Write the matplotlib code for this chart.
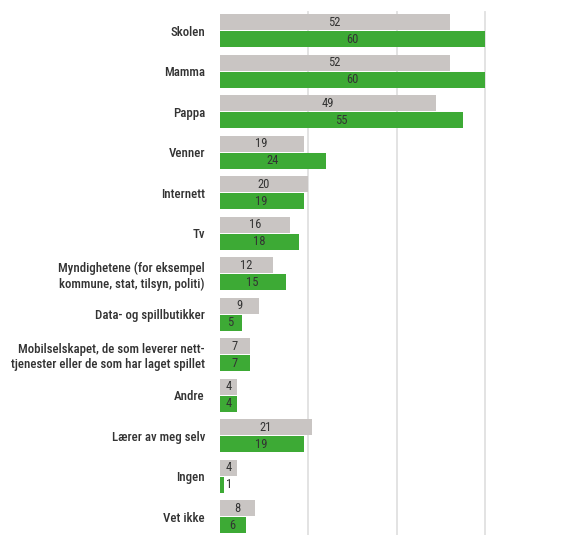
import matplotlib
matplotlib.use("Agg")
import matplotlib.pyplot as plt

categories = [
    "Skolen",
    "Mamma",
    "Pappa",
    "Venner",
    "Internett",
    "Tv",
    "Myndighetene (for eksempel\nkommune, stat, tilsyn, politi)",
    "Data- og spillbutikker",
    "Mobilselskapet, de som leverer nett-\ntjenester eller de som har laget spillet",
    "Andre",
    "Lærer av meg selv",
    "Ingen",
    "Vet ikke",
]
gray_values = [52, 52, 49, 19, 20, 16, 12, 9, 7, 4, 21, 4, 8]
green_values = [60, 60, 55, 24, 19, 18, 15, 5, 7, 4, 19, 1, 6]
grid_ticks = [20, 40, 60]

FAMILY = ["Roboto Condensed", "DejaVu Sans"]
GRAY = "#c9c5c3"
GREEN = "#3daa35"
TEXT = "#333333"

fig = plt.figure(figsize=(5.66, 5.35), dpi=100)
ax = fig.add_axes([219.5 / 566, 0.0, (485 - 219.5) / 566, 1 - 12 / 535])

h = 0.40
off = 0.21
for i, (g, gr) in enumerate(zip(gray_values, green_values)):
    ax.barh(i - off, g, height=h, color=GRAY, zorder=2)
    ax.barh(i + off, gr, height=h, color=GREEN, zorder=2)
    for v, y in ((g, i - off), (gr, i + off)):
        x = v / 2 if v >= 3 else v + 1.2
        ax.text(x, y, str(v), ha="center", va="center", fontsize=9,
                color=TEXT, family=FAMILY, zorder=3)

for t in grid_ticks:
    ax.axvline(t, color="#e0e0e0", lw=1.3, zorder=1, clip_on=False)

ax.set_xlim(0, 60)
ax.set_ylim(12.452, -0.462)
ax.set_yticks(range(len(categories)))
ax.set_yticklabels(categories, family=FAMILY, fontsize=9.3, color=TEXT,
                   fontweight="medium", linespacing=1.2)
ax.tick_params(axis="y", length=0, pad=10.5)
ax.set_xticks([])
for s in ax.spines.values():
    s.set_visible(False)

fig.savefig("out.png", dpi=100)
